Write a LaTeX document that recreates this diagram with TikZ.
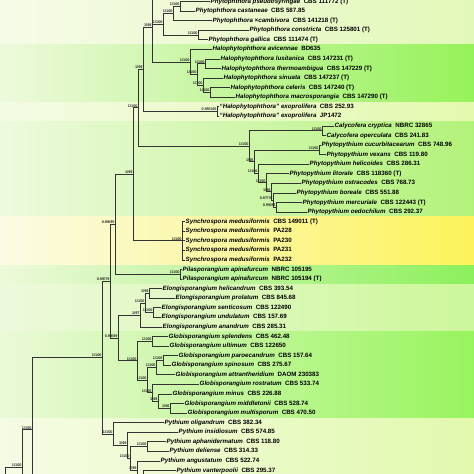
\documentclass[tikz,border=0pt]{standalone}
\usepackage{fontspec}
\setmainfont{Liberation Sans}
\usetikzlibrary{calc}
\definecolor{lA}{HTML}{F6FBE8}\definecolor{rA}{HTML}{E2F8B8}
\definecolor{lB}{HTML}{EEF9DC}\definecolor{rB}{HTML}{96F25A}
\definecolor{lC}{HTML}{F3FBE4}\definecolor{rC}{HTML}{E4F9AE}
\definecolor{lD}{HTML}{EEFADD}\definecolor{rD}{HTML}{B2F27A}
\definecolor{lE}{HTML}{FBFBE6}\definecolor{rE}{HTML}{FCF35A}
\definecolor{lF}{HTML}{EEF9DA}\definecolor{rF}{HTML}{8CF05C}
\definecolor{lG}{HTML}{EEF9DC}\definecolor{rG}{HTML}{CCF79A}
\definecolor{lH}{HTML}{ECF9D8}\definecolor{rH}{HTML}{98F45E}
\definecolor{lI}{HTML}{F5FBE4}\definecolor{rI}{HTML}{E2F9AE}
\tikzset{
 br/.style={draw=black!80, line width=0.6pt},
 leaf/.style={anchor=west, inner sep=0.5pt, font=\fontsize{6.2}{7}\selectfont\bfseries, text=black},
 sup/.style={anchor=south east, inner sep=0.3pt, font=\fontsize{3.8}{4}\selectfont\bfseries, text=black!85},
}
\newcommand\lf[4]{\node[leaf] (L#1) at (#2,{1.5+9.57*#1}) {{\itshape #3}\hspace{3.5pt}#4};}
\newcommand\nd[4]{\coordinate (#1x) at (#2,0); \path ($(#3)!.5!(#4)$) coordinate (#1m); \coordinate (#1) at (#1m -| #1x);}
\newcommand\ed[2]{\draw[br] (#1) |- (#2);}
\newcommand\bsup[2]{\node[sup] (s#1) at (#1) {#2};}
\begin{document}
\begin{tikzpicture}[x=1pt,y=-1pt]
\useasboundingbox (0,0) rectangle (474,474);
% background bands
\shade[left color=lA, right color=rA] (0,-1) rectangle (474,44.6);
\shade[left color=lB, right color=rB] (0,44.6) rectangle (474,102.5);
\shade[left color=lC, right color=rC] (0,102.5) rectangle (474,121.1);
\shade[left color=lD, right color=rD] (0,121.1) rectangle (474,216.8);
\shade[left color=lE, right color=rE] (0,216.8) rectangle (474,265.0);
\shade[left color=lF, right color=rF] (0,265.0) rectangle (474,284.0);
\shade[left color=lG, right color=rG] (0,284.0) rectangle (474,331.7);
\shade[left color=lH, right color=rH] (0,331.7) rectangle (474,418.0);
\shade[left color=lI, right color=rI] (0,418.0) rectangle (474,475);
% leaves
\lf{0}{210}{Phytophthora pseudosyringae}{CBS 111772 (T)}
\lf{1}{195}{Phytophthora castaneae}{CBS 587.85}
\lf{2}{212}{Phytophthora ×cambivora}{CBS 141218 (T)}
\lf{3}{249}{Phytophthora constricta}{CBS 125801 (T)}
\lf{4}{208}{Phytophthora gallica}{CBS 111474 (T)}
\lf{5}{212}{Halophytophthora avicennae}{BD635}
\lf{6}{220}{Halophytophthora lusitanica}{CBS 147231 (T)}
\lf{7}{221}{Halophytophthora thermoambigua}{CBS 147229 (T)}
\lf{8}{223}{Halophytophthora sinuata}{CBS 147237 (T)}
\lf{9}{230}{Halophytophthora celeris}{CBS 147240 (T)}
\lf{10}{235}{Halophytophthora macrosporangia}{CBS 147290 (T)}
\lf{11}{219}{“Halophytophthora” exoprolifera}{CBS 252.93}
\lf{12}{219}{“Halophytophthora” exoprolifera}{JP1472}
\lf{13}{334}{Calycofera cryptica}{NBRC 32865}
\lf{14}{326}{Calycofera operculata}{CBS 241.83}
\lf{15}{321}{Phytopythium cucurbitacearum}{CBS 748.96}
\lf{16}{326}{Phytopythium vexans}{CBS 119.80}
\lf{17}{309}{Phytopythium helicoides}{CBS 286.31}
\lf{18}{289}{Phytopythium litorale}{CBS 118360 (T)}
\lf{19}{301}{Phytopythium ostracodes}{CBS 768.73}
\lf{20}{296}{Phytopythium boreale}{CBS 551.88}
\lf{21}{302}{Phytopythium mercuriale}{CBS 122443 (T)}
\lf{22}{307}{Phytopythium oedochilum}{CBS 292.37}
\lf{23}{185}{Synchrospora medusiformis}{CBS 149011 (T)}
\lf{24}{185}{Synchrospora medusiformis}{PA228}
\lf{25}{185}{Synchrospora medusiformis}{PA230}
\lf{26}{185}{Synchrospora medusiformis}{PA231}
\lf{27}{185}{Synchrospora medusiformis}{PA232}
\lf{28}{182}{Pilasporangium apinafurcum}{NBRC 105195}
\lf{29}{182}{Pilasporangium apinafurcum}{NBRC 105194 (T)}
\lf{30}{162}{Elongisporangium helicandrum}{CBS 393.54}
\lf{31}{175}{Elongisporangium prolatum}{CBS 845.68}
\lf{32}{161}{Elongisporangium senticosum}{CBS 122490}
\lf{33}{161}{Elongisporangium undulatum}{CBS 157.69}
\lf{34}{162}{Elongisporangium anandrum}{CBS 285.31}
\lf{35}{168}{Globisporangium splendens}{CBS 462.48}
\lf{36}{169}{Globisporangium ultimum}{CBS 122650}
\lf{37}{178}{Globisporangium paroecandrum}{CBS 157.64}
\lf{38}{171}{Globisporangium spinosum}{CBS 275.67}
\lf{39}{175}{Globisporangium attrantheridium}{DAOM 230383}
\lf{40}{199}{Globisporangium rostratum}{CBS 533.74}
\lf{41}{172}{Globisporangium minus}{CBS 226.88}
\lf{42}{184}{Globisporangium middletonii}{CBS 528.74}
\lf{43}{187}{Globisporangium multisporum}{CBS 470.50}
\lf{44}{164}{Pythium oligandrum}{CBS 382.34}
\lf{45}{178}{Pythium insidiosum}{CBS 574.85}
\lf{46}{166}{Pythium aphanidermatum}{CBS 118.80}
\lf{47}{169}{Pythium deliense}{CBS 314.33}
\lf{48}{160}{Pythium angustatum}{CBS 522.74}
\lf{49}{176}{Pythium vanterpoolii}{CBS 295.37}
% internal nodes
\coordinate (OFF1) at (175,-7.9);
\coordinate (OFF2) at (160,488);
\coordinate (OFF3) at (60,502);
\coordinate (OFF4) at (40,505);
\coordinate (OFF5) at (20,520);
\nd{P1}{180}{L0.west}{L1.west}
\nd{Pc}{173}{P1}{L2.west}
\nd{Pd}{198}{L3.west}{L4.west}
\nd{Pb}{163}{Pc}{Pd}
\nd{H2}{205}{L6.west}{L7.west}
\nd{H5}{210}{L9.west}{L10.west}
\nd{H4}{203}{L8.west}{H5}
\nd{H3}{197}{H2}{H4}
\nd{H1}{190}{L5.west}{H3}
\nd{N152}{152}{OFF1}{H1}
\nd{E}{217}{L11.west}{L12.west}
\nd{N143}{143}{N152}{E}
\nd{Cn}{322}{L13.west}{L14.west}
\nd{Py1}{319}{L15.west}{L16.west}
\nd{Py6}{276}{L21.west}{L22.west}
\nd{Py5}{273}{L20.west}{Py6}
\nd{Py4}{271}{L19.west}{Py5}
\nd{Py3}{266}{L18.west}{Py4}
\nd{Py2}{258}{L17.west}{Py3}
\nd{Py0}{254}{Py1}{Py2}
\nd{CP}{249}{Cn}{Py0}
\nd{N138}{138}{N143}{CP}
\nd{S}{182}{L23.west}{L27.west}
\nd{N133}{133}{N138}{S}
\nd{Pi}{180}{L28.west}{L29.west}
\nd{N115}{115}{N133}{Pi}
\nd{El1}{149}{L30.west}{L31.west}
\nd{El2}{153}{L32.west}{L33.west}
\nd{Ela}{145}{El1}{El2}
\nd{El0}{140}{Ela}{L34.west}
\nd{G1}{152}{L35.west}{L36.west}
\nd{G2}{163}{L37.west}{L38.west}
\nd{G3}{156}{G2}{L39.west}
\nd{G5}{170}{L42.west}{L43.west}
\nd{G4}{158}{L41.west}{G5}
\nd{G6}{152}{L40.west}{G4}
\nd{G7}{147}{G3}{G6}
\nd{Gt}{137}{G1}{G7}
\nd{N118}{118}{El0}{Gt}
\nd{N110}{110}{N115}{N118}
\nd{Pa}{147}{L46.west}{L47.west}
\nd{Pt5}{143}{L49.west}{OFF2}
\nd{Pt4}{137}{L48.west}{Pt5}
\nd{Pt3}{130}{Pa}{Pt4}
\nd{Pt2}{127}{L45.west}{Pt3}
\nd{Pt1}{113}{L44.west}{Pt2}
\nd{N102}{102}{N110}{Pt1}
\nd{N32}{32}{N102}{OFF3}
\nd{N22}{22}{N32}{OFF4}
\nd{N5}{5}{N22}{OFF5}
% edges
\ed{P1}{L0.west}\ed{P1}{L1.west}
\ed{Pc}{P1}\ed{Pc}{L2.west}
\ed{Pd}{L3.west}\ed{Pd}{L4.west}
\ed{Pb}{Pc}\ed{Pb}{Pd}
\ed{H2}{L6.west}\ed{H2}{L7.west}
\ed{H5}{L9.west}\ed{H5}{L10.west}
\ed{H4}{L8.west}\ed{H4}{H5}
\ed{H3}{H2}\ed{H3}{H4}
\ed{H1}{L5.west}\ed{H1}{H3}
\ed{N152}{OFF1}\ed{N152}{Pb}\ed{N152}{H1}
\ed{E}{L11.west}\ed{E}{L12.west}
\ed{N143}{N152}\ed{N143}{E}
\ed{Cn}{L13.west}\ed{Cn}{L14.west}
\ed{Py1}{L15.west}\ed{Py1}{L16.west}
\ed{Py6}{L21.west}\ed{Py6}{L22.west}
\ed{Py5}{L20.west}\ed{Py5}{Py6}
\ed{Py4}{L19.west}\ed{Py4}{Py5}
\ed{Py3}{L18.west}\ed{Py3}{Py4}
\ed{Py2}{L17.west}\ed{Py2}{Py3}
\ed{Py0}{Py1}\ed{Py0}{Py2}
\ed{CP}{Cn}\ed{CP}{Py0}
\ed{N138}{N143}\ed{N138}{CP}
\ed{S}{L23.west}\ed{S}{L24.west}\ed{S}{L25.west}\ed{S}{L26.west}\ed{S}{L27.west}
\ed{N133}{N138}\ed{N133}{S}
\ed{Pi}{L28.west}\ed{Pi}{L29.west}
\ed{N115}{N133}\ed{N115}{Pi}
\ed{El1}{L30.west}\ed{El1}{L31.west}
\ed{El2}{L32.west}\ed{El2}{L33.west}
\ed{Ela}{El1}\ed{Ela}{El2}
\ed{El0}{Ela}\ed{El0}{L34.west}
\ed{G1}{L35.west}\ed{G1}{L36.west}
\ed{G2}{L37.west}\ed{G2}{L38.west}
\ed{G3}{G2}\ed{G3}{L39.west}
\ed{G5}{L42.west}\ed{G5}{L43.west}
\ed{G4}{L41.west}\ed{G4}{G5}
\ed{G6}{L40.west}\ed{G6}{G4}
\ed{G7}{G3}\ed{G7}{G6}
\ed{Gt}{G1}\ed{Gt}{G7}
\ed{N118}{El0}\ed{N118}{Gt}
\ed{N110}{N115}\ed{N110}{N118}
\ed{Pa}{L46.west}\ed{Pa}{L47.west}
\ed{Pt5}{L49.west}\ed{Pt5}{OFF2}
\ed{Pt4}{L48.west}\ed{Pt4}{Pt5}
\ed{Pt3}{Pa}\ed{Pt3}{Pt4}
\ed{Pt2}{L45.west}\ed{Pt2}{Pt3}
\ed{Pt1}{L44.west}\ed{Pt1}{Pt2}
\ed{N102}{N110}\ed{N102}{Pt1}
\ed{N32}{N102}\ed{N32}{OFF3}
\ed{N22}{N32}\ed{N22}{OFF4}
\ed{N5}{N22}\ed{N5}{OFF5}
% support values
\bsup{P1}{1/100}\bsup{Pc}{1/100}\bsup{Pd}{1/100}\bsup{Pb}{1/100}\bsup{N152}{1/98}
\bsup{H1}{1/100}\bsup{H2}{1/100}\bsup{H3}{1/100}\bsup{H4}{1/100}\bsup{H5}{1/100}
\bsup{E}{0.99/100}\bsup{N143}{1/99}\bsup{N138}{1/100}\bsup{N133}{1/99}
\bsup{Cn}{1/100}\bsup{CP}{1/100}\bsup{Py1}{1/100}\bsup{Py0}{1/96}\bsup{Py2}{1/100}
\bsup{Py3}{1/100}\bsup{Py4}{1/98}\bsup{Py5}{0.97/76}\bsup{Py6}{0.99/83}
\bsup{S}{1/100}\bsup{Pi}{1/100}\bsup{N115}{0.99/95}\bsup{N110}{0.99/79}\bsup{N118}{0.99/89}
\bsup{El1}{1/99}\bsup{El2}{1/100}\bsup{Ela}{1/100}\bsup{El0}{1/97}
\bsup{G1}{1/100}\bsup{G2}{1/100}\bsup{G3}{1/100}\bsup{G7}{1/100}\bsup{G6}{1/100}
\bsup{G4}{1/98}\bsup{G5}{1/96}\bsup{Gt}{1/100}\bsup{N102}{1/100}
\bsup{Pt1}{1/100}\bsup{Pt2}{1/99}\bsup{Pa}{1/100}\bsup{Pt3}{1/100}\bsup{Pt4}{1/99}
\bsup{N32}{1/100}\bsup{N22}{1/100}
\end{tikzpicture}
\end{document}
